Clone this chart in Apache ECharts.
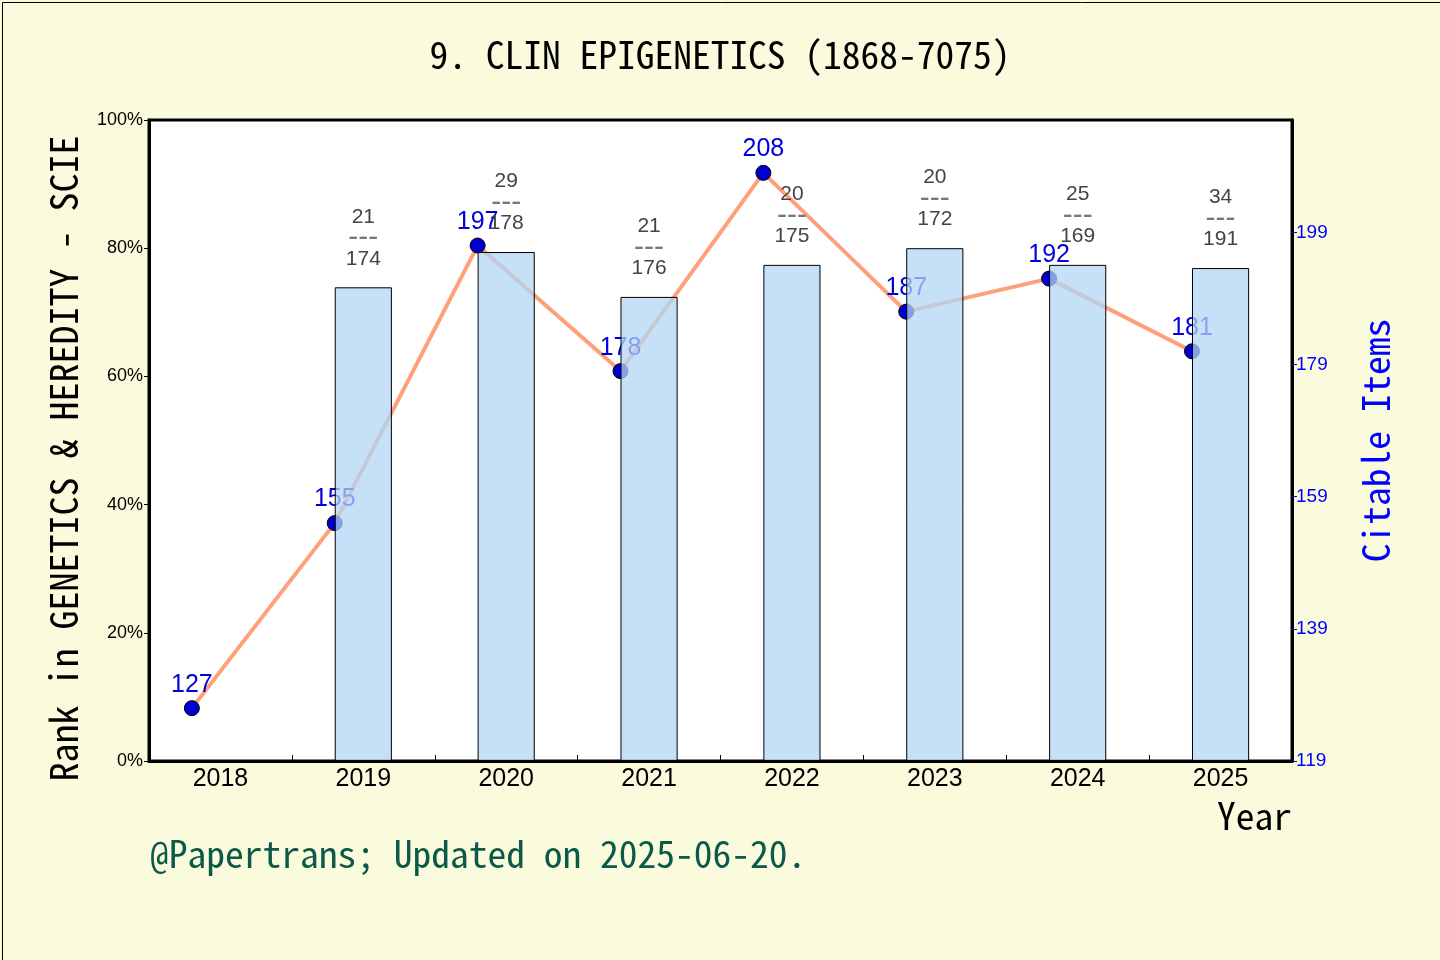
<!DOCTYPE html>
<html>
<head>
    <meta charset="utf-8">
    <title>CLIN EPIGENETICS</title>
    <script src="https://cdn.jsdelivr.net/npm/echarts@6/dist/echarts.min.js"></script>
    <style>
        html, body { margin: 0; padding: 0; background: #fafadc; }
        #main { width: 1440px; height: 960px; }
    </style>
</head>
<body>
    <div id="main"></div>
    <script type="text/javascript">
// data
var years = ['2018', '2019', '2020', '2021', '2022', '2023', '2024', '2025'];
var rankPct = [null, 73.9, 79.4, 72.4, 77.4, 80.0, 77.4, 76.9];   // bar height, % in category
var rankNo = [null, 21, 29, 21, 20, 20, 25, 34];
var rankOf = [null, 174, 178, 176, 175, 172, 169, 191];
var citable = [127, 155, 197, 178, 208, 187, 192, 181];
var rightTicks = [119, 139, 159, 179, 199];

var mono = "'Noto Sans Mono CJK SC', 'Liberation Mono', monospace";
var sans = "'Liberation Sans', Arial, sans-serif";

var myChart = echarts.init(document.getElementById('main'));

// line points sit a little left of the category centre (at the bar's left edge)
var linePts = citable.map(function (v, i) { return [i - 0.2, v]; });

var barData = rankPct.map(function (v, i) {
    if (v == null) return null;
    return { value: v, label: { formatter: rankNo[i] + '\n{d|---}\n' + rankOf[i] } };
});

option = {
    backgroundColor: '#fafadc',
    animation: false,
    title: {
        text: '9. CLIN EPIGENETICS (1868-7075)',
        left: 'center',
        top: 31,
        textStyle: { fontFamily: mono, fontSize: 37.5, fontWeight: 'normal', color: '#000' }
    },
    grid: {
        left: 149, right: 148, top: 120, bottom: 199,
        show: true, backgroundColor: '#fff', borderColor: '#000', borderWidth: 3
    },
    xAxis: [{
        type: 'category',
        data: years,
        boundaryGap: true,
        name: 'Year',
        nameLocation: 'end',
        nameGap: 0,
        nameTextStyle: {
            fontFamily: mono, fontSize: 37.5, color: '#000',
            align: 'right', verticalAlign: 'top', padding: [36, 0, 0, 0]
        },
        axisLine: { lineStyle: { color: '#000', width: 3 } },
        axisTick: { show: true, inside: true, length: 6, lineStyle: { color: '#000', width: 1 } },
        axisLabel: { fontFamily: sans, fontSize: 25, color: '#000', margin: 6 }
    }, {
        type: 'value',
        show: false,
        min: -0.5,
        max: years.length - 0.5
    }],
    yAxis: [{
        type: 'value',
        min: 0, max: 100, interval: 20,
        name: 'Rank in GENETICS & HEREDITY - SCIE',
        nameLocation: 'middle',
        nameRotate: 90,
        nameGap: 66,
        nameTextStyle: { fontFamily: mono, fontSize: 38, color: '#000', padding: [0, 36, 0, 0] },
        axisLine: { show: true, onZero: false, lineStyle: { color: '#000', width: 3 } },
        axisTick: { show: true, length: 5, lineStyle: { color: '#000', width: 1 } },
        axisLabel: { formatter: '{value}%', fontFamily: sans, fontSize: 18, color: '#000', margin: 6 },
        splitLine: { show: false }
    }, {
        type: 'value',
        position: 'right',
        min: 119, max: 216,
        name: 'Citable Items',
        nameLocation: 'middle',
        nameRotate: 90,
        nameGap: 65,
        nameTextStyle: { fontFamily: mono, fontSize: 37.5, color: '#0000ff' },
        axisLine: { show: true, onZero: false, lineStyle: { color: '#000', width: 3 } },
        axisTick: { show: true, length: 5, customValues: rightTicks, lineStyle: { color: '#0000ff', width: 1 } },
        axisLabel: { customValues: rightTicks, fontFamily: sans, fontSize: 19, color: '#0000ff', margin: 4 },
        splitLine: { show: false }
    }],
    series: [{
        name: 'Citable Items',
        type: 'line',
        xAxisIndex: 1,
        yAxisIndex: 1,
        data: linePts,
        z: 2,
        symbol: 'circle',
        symbolSize: 15,
        lineStyle: { color: '#ffa07a', width: 4 },
        itemStyle: { color: '#0000cc', borderColor: '#000', borderWidth: 1 },
        label: {
            show: true, position: 'top', distance: 3,
            fontFamily: sans, fontSize: 25, color: '#0000dd',
            formatter: function (p) { return p.value[1]; }
        }
    }, {
        name: 'Rank',
        type: 'bar',
        xAxisIndex: 0,
        yAxisIndex: 0,
        data: barData,
        z: 3,
        barWidth: '40%',
        itemStyle: { color: 'rgba(178,214,244,0.75)', borderColor: '#000', borderWidth: 1 },
        label: {
            show: true, position: 'top', distance: 18,
            fontFamily: sans, fontSize: 21, lineHeight: 21, color: '#444',
            rich: {
                d: { fontFamily: sans, fontSize: 30, lineHeight: 21, color: '#777' }
            }
        }
    }],
    graphic: [{
        type: 'text',
        left: 150,
        top: 835,
        style: { text: '@Papertrans; Updated on 2025-06-20.', font: '37.5px ' + mono, fill: '#0b5a48' }
    }, {
        type: 'rect',
        left: 0, top: 0,
        shape: { width: 1439, height: 959 },
        style: { fill: 'none', stroke: '#000', lineWidth: 1 },
        silent: true
    }]
};

if (option && typeof option === "object") {
    myChart.setOption(option);
}
    </script>
</body>
</html>
